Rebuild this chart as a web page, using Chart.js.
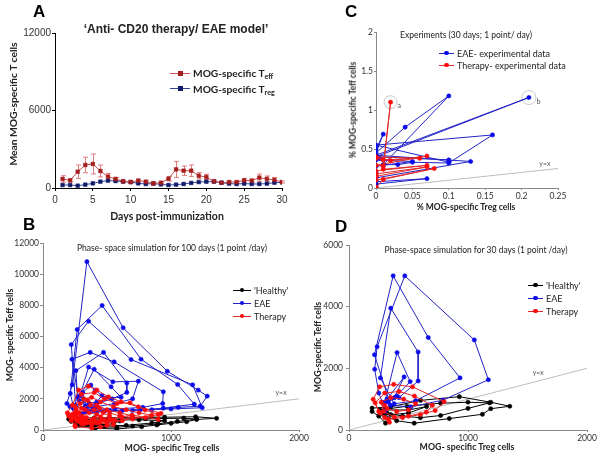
<!DOCTYPE html>
<html><head><meta charset="utf-8">
<script src="https://cdn.jsdelivr.net/npm/chart.js@4"></script>
<style>
body{margin:0;background:#fff;width:600px;height:456px;position:relative;overflow:hidden;font-family:Lato,sans-serif;color:#222;}
canvas{position:absolute;}
.t{position:absolute;white-space:nowrap;line-height:1;}
.c{transform:translate(-50%,-50%);}
.r{transform:translate(-50%,-50%) rotate(-90deg);}
.L{position:absolute;font-family:'Liberation Sans',Arial,sans-serif;font-weight:bold;font-size:17px;line-height:17px;color:#000;}
.leg{position:absolute;white-space:nowrap;}
.leg .ln{position:absolute;height:1px;}
.leg .mk{position:absolute;}
.leg .tx{position:absolute;transform:translateY(-50%);line-height:1;}
sub{font-size:70%;vertical-align:-0.35em;line-height:0;}
</style></head><body>
<canvas id="cA" width="300" height="225" style="left:0;top:0;width:300px;height:225px"></canvas>
<canvas id="cC" width="300" height="225" style="left:300px;top:0;width:300px;height:225px"></canvas>
<canvas id="cB" width="312" height="231" style="left:0;top:225px;width:312px;height:231px"></canvas>
<canvas id="cD" width="300" height="231" style="left:300px;top:225px;width:300px;height:231px"></canvas>

<div class="L" style="left:33px;top:3px">A</div>
<div class="L" style="left:345px;top:3px">C</div>
<div class="L" style="left:23px;top:216px">B</div>
<div class="L" style="left:335px;top:218px">D</div>

<div class="t c" style="left:176px;top:29px;font-family:'Liberation Sans',Arial,sans-serif;font-weight:bold;font-size:12px">‘Anti- CD20 therapy/ EAE model’</div>
<div class="t c" style="left:167px;top:216px;font-weight:bold;font-size:10.5px">Days post-immunization</div>
<div class="t r" style="left:13px;top:104px;font-weight:bold;font-size:10.3px">Mean MOG-specific T cells</div>

<div class="t c" style="left:466px;top:35px;font-size:8.5px">Experiments (30 days; 1 point/ day)</div>
<div class="t c" style="left:466px;top:207px;font-weight:bold;font-size:8.5px">% MOG-specific Treg cells</div>
<div class="t r" style="left:353px;top:110px;font-weight:bold;font-size:8.5px">% MOG-specific Teff cells</div>

<div class="t c" style="left:172px;top:248px;font-size:8.5px">Phase- space simulation for 100 days (1 point /day)</div>
<div class="t c" style="left:172px;top:448px;font-weight:bold;font-size:8.8px">MOG- specific Treg cells</div>
<div class="t r" style="left:10px;top:335px;font-weight:bold;font-size:8.8px">MOG- specific Teff cells</div>

<div class="t c" style="left:476px;top:250px;font-size:8.5px">Phase-space simulation for 30 days (1 point /day)</div>
<div class="t c" style="left:467px;top:447px;font-weight:bold;font-size:8.8px">MOG- specific Treg cells</div>
<div class="t r" style="left:318px;top:347px;font-weight:bold;font-size:8.8px">MOG-specific Teff cells</div>

<script>
// ---------- Panel A data ----------
const days = [1,2,3,4,5,6,7,8,9,10,11,12,13,14,15,16,17,18,19,20,21,22,23,24,25,26,27,28,29,30];
const teffMean = [700,590,1260,1780,1860,1320,880,700,520,460,570,490,360,410,720,1440,1340,1340,950,850,520,410,460,460,590,570,800,700,620,460];
const teffErr  = [250,120,520,600,770,460,250,120,80,60,120,100,80,80,180,620,360,440,240,210,80,60,90,90,150,120,280,230,200,80];
const tregMean = [230,230,180,260,360,490,570,540,490,460,360,310,340,280,230,260,310,390,460,490,490,410,340,310,340,310,310,340,410,440];
const aXTicks = [0,5,10,15,20,25,30];
const aYTicks = [0,6000,12000];

// ---------- Panel B data (Treg, Teff) ----------
const bHealthy = [[200,700],[210,800],[400,780],[700,800],[950,820],[1192,850],[1356,750],[1200,680],[1122,530],[1000,430],[889,320],[771,210],[577,64],[408,110],[280,300],[220,550],
[230,650],[450,700],[800,720],[1100,760],[1200,700],[1050,550],[900,400],[700,250],[577,180],[400,200],[300,350],[250,500],
[260,600],[500,650],[750,650],[950,600],[850,450],[650,300],[480,250],[350,350],[290,480],
[300,550],[600,580],[550,400],[400,320],[320,430]];
const bEAE = [[300,800],[250,1000],[210,1500],[187,1700],[228,2900],[343,10800],[626,6560],[971,3770],[1213,2560],[1283,2170],[1228,1530],[1057,1450],[850,1300],[620,1250],[420,1150],[300,1050],
[240,1400],[213,2350],[267,6450],[462,7990],[766,4540],[1052,2920],[1182,1660],[940,1400],[700,1250],[480,1200],[330,1150],
[255,1600],[221,5480],[356,6980],[688,4520],[1169,2900],[1244,1430],[1000,1350],[760,1300],[520,1250],[360,1250],
[280,1900],[226,4540],[369,4980],[556,4370],[940,2450],[935,1700],[780,1450],[560,1350],[390,1350],
[270,2100],[257,3810],[473,4980],[655,3020],[655,2410],[540,2000],[420,1700],[330,1500],
[290,2200],[356,4040],[546,3090],[745,3130],[700,2000],[560,1700],[420,1500],[330,1400],
[300,2300],[400,3900],[532,2770],[610,2100],[486,2030],[408,1490],[340,1500],
[310,2400],[374,2880],[408,2560],[460,2200],[420,1800],[360,1700]];
const bTherapy = [[250,300],[220,600],[200,900],[190,1100],[230,1600],[278,2560],[355,2810],[421,2560],[511,2130],[610,1810],[745,1490],[922,1070],[900,680],[694,960],[520,700],[400,500],[300,400],
[260,600],[230,1000],[250,1500],[300,2300],[400,2400],[480,2000],[580,1700],[680,1750],[797,1280],[900,1000],[800,800],[616,850],[480,650],[350,500],[280,550],
[240,800],[260,1300],[320,2000],[380,2100],[450,1800],[550,1500],[650,1300],[750,1100],[850,950],[700,700],[560,600],[420,450],[320,400],
[270,700],[250,1100],[290,1700],[350,1900],[420,1600],[500,1300],[600,1100],[700,900],[620,600],[500,450],[380,350],[300,500],
[260,900],[300,1400],[370,1600],[440,1400],[520,1100],[600,900],[540,650],[440,500],[340,450],[290,700],
[280,1100],[330,1300],[400,1300],[470,1100],[520,900],[460,700],[380,600],[320,650],
[300,900],[360,1100],[420,1000],[450,850],[400,750],[340,800],
[310,850],[200,1000],[220,750],[252,210],[382,110],[450,200],[500,300],[550,350]];
const bIdentity = [[0,0],[2000,2000]];

// ---------- Panel C data (% Treg, % Teff) ----------
const cEAE = [[0,0.00],[0,0.02],[0,0.05],[0.07,0.12],[0,0.08],[0,0.10],[0,0.13],[0.13,0.34],[0,0.42],[0.21,1.16],[0,0.40],[0.10,0.36],[0.10,0.33],[0,0.55],[0.16,0.68],[0.10,0.32],[0.05,0.33],[0.03,0.30],[0.01,0.30],[0.10,1.18],[0.04,0.78],[0,0.45],[0.01,0.69],[0,0.50],[0.005,0.38],[0,0.36],[0.05,0.34],[0,0.28],[0,0.20],[0,0.16]];
const cTherapy = [[0,0.00],[0,0.01],[0.01,0.11],[0.08,0.25],[0,0.10],[0,0.15],[0.07,0.27],[0,0.18],[0,0.22],[0.07,0.29],[0.01,0.24],[0.02,1.10],[0.01,0.28],[0,0.29],[0.07,0.41],[0.02,0.35],[0,0.40],[0.06,0.38],[0.01,0.36],[0,0.38]];
const cIdentity = [[0,0],[0.25,0.25]];

// ---------- Panel D data ----------
const dHealthy = [[307,220],[250,450],[194,600],[194,710],[350,750],[602,960],[927,1080],[1191,900],[1351,770],[1191,690],[1121,510],[843,370],[548,220],[400,300],[290,500],[260,650],[487,770],[770,870],[1000,900],[1180,880],[1000,700],[770,470],[600,400],[450,450],[320,550],[300,650],[500,650],[652,760],[500,550],[350,500]];
const dEAE = [[300,600],[280,900],[250,1200],[216,1970],[236,2700],[469,5000],[1053,2920],[1171,1630],[790,970],[520,750],[350,800],[214,2440],[371,5000],[666,3000],[933,1690],[560,950],[380,850],[264,1690],[351,3950],[581,2530],[581,1590],[420,1050],[300,900],[404,2510],[514,1570],[400,1100],[320,1000],[463,1720],[382,1050],[330,900]];
const dTherapy = [[340,250],[300,400],[250,600],[203,995],[258,1400],[376,1480],[534,1400],[799,920],[724,630],[600,500],[450,400],[330,350],[260,550],[220,880],[300,1200],[420,1250],[550,1100],[700,800],[650,580],[500,450],[380,420],[290,600],[270,900],[350,1050],[460,1000],[560,850],[500,650],[400,600],[320,700],[300,800]];
const dIdentity = [[0,0],[2000,2000]];

// ---------- helpers ----------
const toXY = arr => arr.map(p => ({x:p[0], y:p[1]}));
const BLUE_L = 'rgb(35,35,200)', BLUE_P = 'rgb(10,10,235)';
const RED_L = 'rgb(225,40,40)', RED_P = 'rgb(255,10,10)';

const notes = {
  id:'notes',
  beforeDatasetsDraw(chart, args, opts){
    const {ctx, scales:{x,y}} = chart;
    ctx.save();
    (opts.rings||[]).forEach(r=>{
      ctx.strokeStyle='#c8c8c8'; ctx.lineWidth=1;
      ctx.beginPath(); ctx.arc(x.getPixelForValue(r.x), y.getPixelForValue(r.y), r.r, 0, Math.PI*2); ctx.stroke();
    });
    ctx.restore();
  },
  afterDatasetsDraw(chart, args, opts){
    const {ctx, scales:{x,y}} = chart;
    ctx.save();
    ctx.font = '7px Lato'; ctx.fillStyle = '#555'; ctx.textBaseline='middle'; ctx.textAlign='center';
    (opts.texts||[]).forEach(t=>{ ctx.fillText(t.text, x.getPixelForValue(t.x), y.getPixelForValue(t.y)); });
    ctx.restore();
  }
};

const errorBars = {
  id:'errorBars',
  beforeDatasetsDraw(chart){
    const {ctx, scales:{x,y}} = chart;
    ctx.save(); ctx.strokeStyle='#e27c7c'; ctx.lineWidth=1;
    days.forEach((d,i)=>{
      const px = Math.round(x.getPixelForValue(d))+0.5;
      const top = y.getPixelForValue(teffMean[i]+teffErr[i]);
      const bot = y.getPixelForValue(Math.max(0,teffMean[i]-teffErr[i]));
      ctx.beginPath();
      ctx.moveTo(px,top); ctx.lineTo(px,bot);
      ctx.moveTo(px-2.5,top); ctx.lineTo(px+2.5,top);
      ctx.moveTo(px-2.5,bot); ctx.lineTo(px+2.5,bot);
      ctx.stroke();
    });
    ctx.restore();
  }
};

function phaseScale(min,max,step,size,isX,fmt,tl,tp){
  return {
    type:'linear', min:min, max:max,
    afterFit(s){ if(isX) s.height=size; else s.width=size; },
    afterBuildTicks(s){ const t=[]; for(let v=min; v<=max+1e-9; v+=step) t.push({value:+v.toFixed(4)}); s.ticks=t; },
    ticks:{ color:'#333', font:{family:'Lato', size:8.5}, padding:tp, maxRotation:0, autoSkip:false,
            callback: fmt },
    grid:{ drawOnChartArea:false, drawTicks:true, tickLength:tl, color:'#8a8a8a' },
    border:{ color:'#8a8a8a', width:1 }
  };
}

function lineDS(data, lineColor, pointColor){
  return { data: toXY(data), showLine:true, borderColor:lineColor, borderWidth:1,
    pointRadius:2.1, pointBackgroundColor:pointColor, pointBorderColor:pointColor, pointBorderWidth:0.6, tension:0 };
}
function identDS(data){
  return { data: toXY(data), showLine:true, borderColor:'#bdbdbd', borderWidth:1, pointRadius:0, tension:0 };
}

const baseOpts = { responsive:false, animation:false, events:[],
  plugins:{ legend:{display:false}, tooltip:{enabled:false}, title:{display:false} } };

// ---------- Panel A ----------
new Chart(document.getElementById('cA'), {
  type:'line',
  data:{ datasets:[
    { data: days.map((d,i)=>({x:d,y:teffMean[i]})), borderColor:'#c95050', borderWidth:1, pointStyle:'rect', pointRadius:2.6,
      pointBackgroundColor:'#a41d1d', pointBorderColor:'#a41d1d', pointBorderWidth:0.5, tension:0 },
    { data: days.map((d,i)=>({x:d,y:tregMean[i]})), borderColor:'#3a479e', borderWidth:1, pointStyle:'rect', pointRadius:2.6,
      pointBackgroundColor:'#111b6b', pointBorderColor:'#111b6b', pointBorderWidth:0.5, tension:0 }
  ]},
  options: Object.assign({}, baseOpts, {
    layout:{ padding:{left:0, top:33, right:18, bottom:0} },
    scales:{
      x:{ type:'linear', min:0, max:30,
          afterFit(s){ s.height=37; },
          afterBuildTicks(s){ s.ticks = aXTicks.map(v=>({value:v})); },
          ticks:{ color:'#333', font:{family:'Liberation Sans', size:10}, padding:3, maxRotation:0, autoSkip:false },
          grid:{ drawOnChartArea:false, drawTicks:true, tickLength:3, color:'#000' },
          border:{ color:'#000', width:1 } },
      y:{ type:'linear', min:0, max:12000,
          afterFit(s){ s.width=55; },
          afterBuildTicks(s){ s.ticks = aYTicks.map(v=>({value:v})); },
          ticks:{ color:'#333', font:{family:'Liberation Sans', size:10}, padding:1, callback:v=>String(v) },
          grid:{ drawOnChartArea:false, drawTicks:true, tickLength:3, color:'#000' },
          border:{ color:'#000', width:1 } }
    }
  }),
  plugins:[errorBars]
});

// ---------- Panel B ----------
new Chart(document.getElementById('cB'), {
  type:'scatter',
  data:{ datasets:[ lineDS(bTherapy, RED_L, RED_P), lineDS(bEAE, BLUE_L, BLUE_P), lineDS(bHealthy, '#000', '#000'), identDS(bIdentity) ] },
  options: Object.assign({}, baseOpts, {
    layout:{ padding:{left:0, top:18, right:13, bottom:0} },
    plugins: Object.assign({}, baseOpts.plugins, { notes:{ texts:[{text:'y=x', x:1860, y:2400}] } }),
    scales:{ x: phaseScale(0,2000,1000,26,true,v=>String(v),2,1), y: phaseScale(0,12000,2000,43,false,v=>String(v),3,1) }
  }),
  plugins:[notes]
});

// ---------- Panel C ----------
new Chart(document.getElementById('cC'), {
  type:'scatter',
  data:{ datasets:[ lineDS(cTherapy, RED_L, RED_P), lineDS(cEAE, BLUE_L, BLUE_P), identDS(cIdentity) ] },
  options: Object.assign({}, baseOpts, {
    layout:{ padding:{left:0, top:32, right:42, bottom:0} },
    plugins: Object.assign({}, baseOpts.plugins, { notes:{
      texts:[{text:'y=x', x:0.232, y:0.31},{text:'a', x:0.032, y:1.05},{text:'b', x:0.223, y:1.11}],
      rings:[{x:0.02,y:1.10,r:6.5},{x:0.21,y:1.16,r:7}] } }),
    scales:{ x: phaseScale(0,0.25,0.05,37,true,v=>String(+v.toFixed(2)),2,1), y: phaseScale(0,2,0.5,76,false,v=>String(+v.toFixed(1)),2,1) }
  }),
  plugins:[notes]
});

// ---------- Panel D ----------
new Chart(document.getElementById('cD'), {
  type:'scatter',
  data:{ datasets:[ lineDS(dTherapy, RED_L, RED_P), lineDS(dEAE, BLUE_L, BLUE_P), lineDS(dHealthy, '#000', '#000'), identDS(dIdentity) ] },
  options: Object.assign({}, baseOpts, {
    layout:{ padding:{left:0, top:20, right:13, bottom:0} },
    plugins: Object.assign({}, baseOpts.plugins, { notes:{ texts:[{text:'y=x', x:1590, y:1870}] } }),
    scales:{ x: phaseScale(0,2000,1000,26,true,v=>String(v),2,1), y: phaseScale(0,6000,2000,49,false,v=>String(v),3,3) }
  }),
  plugins:[notes]
});

// ---------- HTML legends ----------
function legend(x, y, rowGap, lineW, fontCss, items){
  items.forEach((it,i)=>{
    const cy = y + i*rowGap;
    const d = document.createElement('div'); d.className='leg'; d.style.left='0'; d.style.top='0';
    const ln = document.createElement('div'); ln.className='ln';
    ln.style.cssText = `left:${x}px;top:${cy-0.5}px;width:${lineW}px;background:${it.line}`;
    const mk = document.createElement('div'); mk.className='mk';
    const s = it.size;
    mk.style.cssText = `left:${x+lineW/2-s/2}px;top:${cy-s/2}px;width:${s}px;height:${s}px;background:${it.mark};border-radius:${it.round?'50%':'0'}`;
    const tx = document.createElement('div'); tx.className='tx';
    tx.style.cssText = `left:${x+lineW+3}px;top:${cy}px;${fontCss}`;
    tx.innerHTML = it.label;
    d.appendChild(ln); d.appendChild(mk); d.appendChild(tx);
    document.body.appendChild(d);
  });
}
legend(170, 73, 15.5, 20, 'font-weight:bold;font-size:10.2px;color:#222', [
  {line:'#c95050', mark:'#a41d1d', size:5, round:false, label:'MOG-specific T<sub>eff</sub>'},
  {line:'#3a479e', mark:'#111b6b', size:5, round:false, label:'MOG-specific T<sub>reg</sub>'}
]);
legend(439, 53, 12, 15, 'font-size:9px;color:#222', [
  {line:BLUE_L, mark:BLUE_P, size:4.5, round:true, label:'EAE- experimental data'},
  {line:RED_L, mark:RED_P, size:4.5, round:true, label:'Therapy- experimental data'}
]);
legend(233, 290, 13, 18, 'font-size:9px;color:#222', [
  {line:'#000', mark:'#000', size:4.5, round:true, label:"'Healthy'"},
  {line:BLUE_L, mark:BLUE_P, size:4.5, round:true, label:'EAE'},
  {line:RED_L, mark:RED_P, size:4.5, round:true, label:'Therapy'}
]);
legend(528, 285, 13, 15, 'font-size:9px;color:#222', [
  {line:'#000', mark:'#000', size:4.5, round:true, label:"'Healthy'"},
  {line:BLUE_L, mark:BLUE_P, size:4.5, round:true, label:'EAE'},
  {line:RED_L, mark:RED_P, size:4.5, round:true, label:'Therapy'}
]);
</script>
</body></html>
